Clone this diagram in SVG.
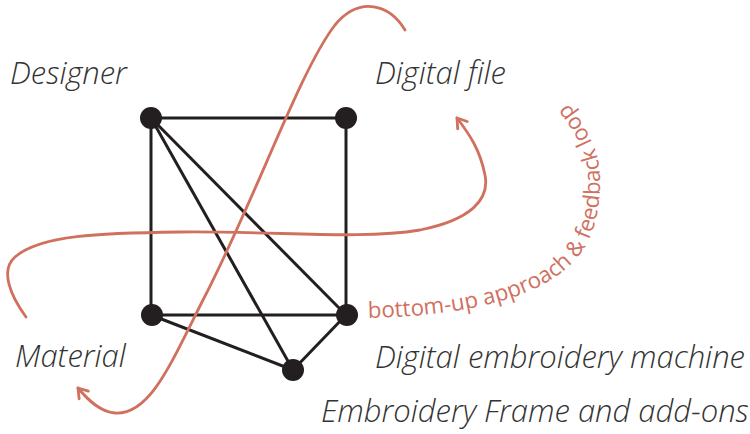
<svg xmlns="http://www.w3.org/2000/svg" width="750" height="434" viewBox="0 0 750 434">
<defs>
<style>
.lbl{font-family:"Open Sans","Liberation Sans",sans-serif;font-style:italic;font-weight:300;font-size:31px;fill:#333}
.edge{stroke:#231f20;stroke-width:3;fill:none}
.node{fill:#231f20}
.flow{stroke:#d0705f;stroke-width:2.8;fill:none;stroke-linecap:round}
.note{font-family:"Open Sans","Liberation Sans",sans-serif;font-size:22.3px;fill:#d0705f}
</style>
<marker id="arr" markerUnits="userSpaceOnUse" markerWidth="20" markerHeight="20" refX="0" refY="0" viewBox="-12 -10 14 20" orient="auto">
<path d="M-9,-6 L0,0 L-9,6" fill="none" stroke="#d0705f" stroke-width="2.8" stroke-linecap="round" stroke-linejoin="round"/>
</marker>
<path id="tp" d="M368,318 C460,316 540,300 575,260 C600,235 603,185 598,160 C594,140 580,118 563,97 L550,82"/>
</defs>
<g id="connectors">
<line class="edge" x1="151" y1="118" x2="346" y2="118"/>
<line class="edge" x1="151" y1="118" x2="151" y2="315"/>
<line class="edge" x1="346" y1="118" x2="346" y2="315"/>
<line class="edge" x1="151" y1="118" x2="346" y2="315"/>
<line class="edge" x1="151" y1="118" x2="293" y2="370"/>
<line class="edge" x1="151" y1="315" x2="346" y2="315"/>
<line class="edge" x1="151" y1="315" x2="293" y2="370"/>
<line class="edge" x1="346" y1="315" x2="293" y2="370"/>
</g>
<g id="flows">
<path class="flow" d="M405,30 C390,5 360,-5 335,25 C300,70 255,200 203,300 C170,365 150,415 115,413 C100,412 88,400 78,388" marker-end="url(#arr)"/>
<path class="flow" d="M26,317 C10,295 0,270 15,257 C40,235 100,233 180,232 C280,231 360,240 420,230 C470,220 490,200 485,175 C480,150 470,135 457,118" marker-end="url(#arr)"/>
</g>
<g id="designer"><circle class="node" cx="151" cy="118" r="11"/><text class="lbl" x="10" y="84">Designer</text></g>
<g id="digital-file"><circle class="node" cx="346" cy="118" r="11"/><text class="lbl" x="375" y="84">Digital file</text></g>
<g id="material"><circle class="node" cx="152" cy="315" r="11"/><text class="lbl" x="15" y="367">Material</text></g>
<g id="machine"><circle class="node" cx="347" cy="315" r="11"/><text class="lbl" x="375" y="368">Digital embroidery machine</text></g>
<g id="frame"><circle class="node" cx="293" cy="370" r="11"/><text class="lbl" x="321" y="422">Embroidery Frame and add-ons</text></g>
<g id="note"><text class="note"><textPath href="#tp">bottom-up approach &amp; feedback loop</textPath></text></g>
</svg>
